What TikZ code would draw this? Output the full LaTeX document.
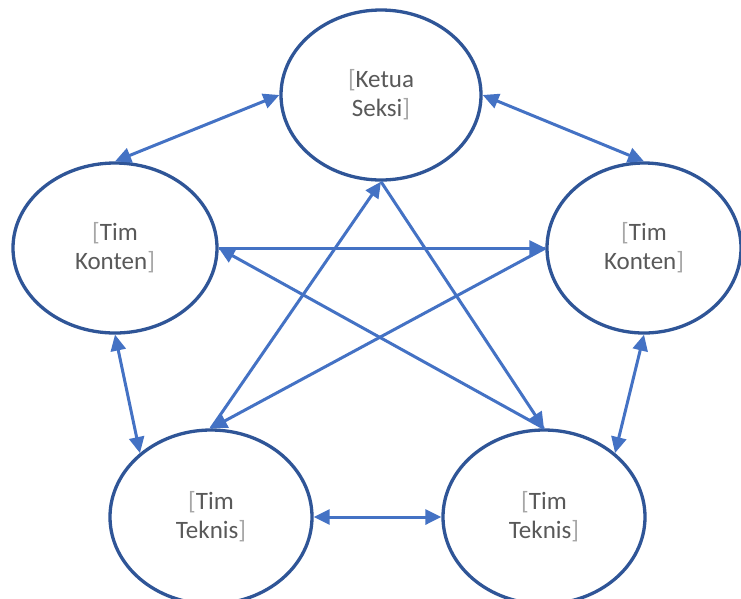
\documentclass[tikz,border=0pt]{standalone}
\usepackage{fontspec}
\setmainfont{Carlito}
\usetikzlibrary{shapes.geometric,arrows.meta}
\definecolor{ebord}{HTML}{2F5597}
\definecolor{arr}{HTML}{4472C4}
\definecolor{txt}{HTML}{595959}
\definecolor{brk}{HTML}{A6A6A6}
\newcommand{\lbr}{{\color{brk}[}}
\newcommand{\rbr}{{\color{brk}]}}
\begin{document}
\begin{tikzpicture}[x=1pt,y=-1pt,
  oval/.style={ellipse, draw=ebord, line width=3.3pt, fill=white, inner sep=0pt,
    align=center, text=txt, font=\fontsize{25}{29}\selectfont},
  conn/.style={draw=arr, line width=3pt, -{Triangle[length=16pt,width=15pt]}},
  dconn/.style={draw=arr, line width=3pt, {Triangle[length=16pt,width=15pt]}-{Triangle[length=16pt,width=15pt]}}]
\useasboundingbox (0,0) rectangle (741,598);
\clip (0,0) rectangle (741,598);
\node[oval, minimum width=200pt, minimum height=170pt] (top) at (381,95) {\lbr Ketua\\Seksi\rbr};
\node[oval, minimum width=204pt, minimum height=170pt] (left) at (115,248) {\lbr Tim\\Konten\rbr};
\node[oval, minimum width=194pt, minimum height=170pt] (right) at (644,248) {\lbr Tim\\Konten\rbr};
\node[oval, minimum width=202pt, minimum height=174pt] (bl) at (211,517) {\lbr Tim\\Teknis\rbr};
\node[oval, minimum width=202pt, minimum height=174pt] (br) at (544,517) {\lbr Tim\\Teknis\rbr};
% outer double arrows
\draw[dconn] (top.west) -- (left.north);
\draw[dconn] (top.east) -- (right.north);
\draw[dconn] (left.south) -- (bl.138);
\draw[dconn] (right.south) -- (br.42);
\draw[dconn] (bl.east) -- (br.west);
% star
\draw[conn] (left.east) -- (right.west);
\draw[conn] (right.west) -- (bl.north);
\draw[conn] (bl.north) -- (top.south);
\draw[conn] (top.south) -- (br.north);
\draw[conn] (br.north) -- (left.east);
\end{tikzpicture}
\end{document}
